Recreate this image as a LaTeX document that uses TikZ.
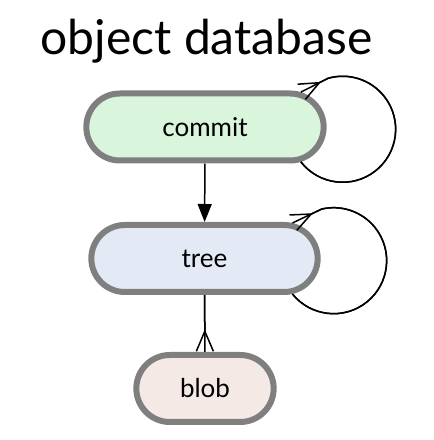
\documentclass[tikz,border=0pt]{standalone}
\usepackage{fontspec}
\setmainfont{Lato}
\usetikzlibrary{shapes.misc,arrows.meta,positioning}

\definecolor{objgray}{HTML}{7F7F7F}
\definecolor{commitgreen}{HTML}{D9F5DC}
\definecolor{treeblue}{HTML}{E3EAF6}
\definecolor{blobpink}{HTML}{F5E9E6}

\tikzset{
  obj/.style={rounded rectangle, draw=objgray, line width=6pt, minimum height=67pt,
    font=\fontsize{26}{30}\selectfont},
  has/.style={line width=1.5pt, -{Triangle[length=18pt,width=14pt]}},
  many/.style={line width=1.5pt, -{Straight Barb[reversed,length=20pt,width=17pt,line width=1.5pt]},
    postaction={draw,-}},
}

\begin{document}
\begin{tikzpicture}[x=1pt,y=1pt]
  \useasboundingbox (0,0) rectangle (434,440);
  \node[anchor=base] (title) at (206.5,385) {\fontsize{48}{54}\selectfont object database};

  \node[obj, fill=commitgreen, minimum width=244pt] (commit) at (205,313) {commit};
  \node[obj, fill=treeblue, minimum width=233pt] (tree) at (204.5,181.5) {tree};
  \node[obj, fill=blobpink, minimum width=144pt] (blob) at (205,51.5) {blob};

  \draw[has] (commit) -- (tree);
  \draw[many] (tree) -- (blob);

  % self references
  \draw[many] (commit.-20) arc[start angle=-142, end angle=106, radius=53] -- (commit.20);
  \draw[many] (tree.-22) arc[start angle=-141, end angle=103, radius=53] -- (tree.22);
\end{tikzpicture}
\end{document}
